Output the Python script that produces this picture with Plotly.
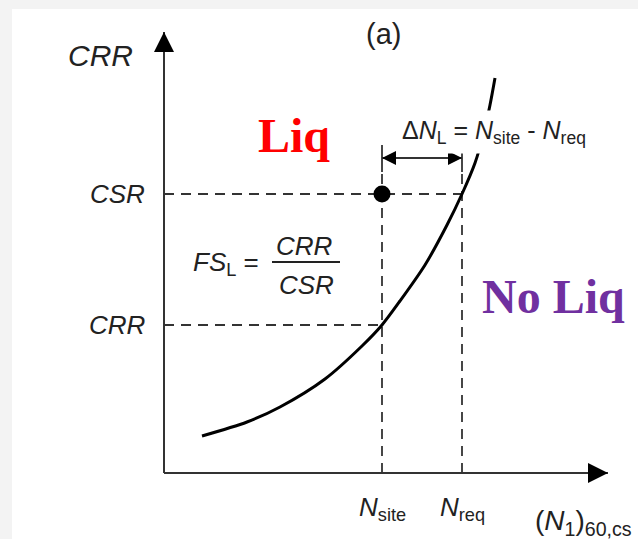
import plotly.graph_objects as go

# ---- data (schematic units: 1 unit = 100 px) ----
curve_x = [0.38, 0.83, 1.16, 1.61, 1.98, 2.18, 2.36, 2.61, 2.83, 2.98, 3.11, 3.20, 3.26, 3.31]
curve_y = [0.37, 0.51, 0.66, 0.94, 1.27, 1.48, 1.72, 2.08, 2.48, 2.79, 3.10, 3.41, 3.68, 3.95]
N_site = 2.18
N_req = 2.98
CSR = 2.79
CRR = 1.48
x_axis_end = 4.44
y_axis_end = 4.41
tick_labels = ["<i>CSR</i>", "<i>CRR</i>"]
tick_values = [CSR, CRR]
n_labels = ["<i>N</i><sub>site</sub>", "<i>N</i><sub>req</sub>"]
n_values = [N_site, N_req]

AX = "#333333"
FONT = "Liberation Sans, Arial, sans-serif"
SERIF = "Liberation Serif, Times New Roman, serif"
DASH = dict(color=AX, width=1.8, dash="10px,7px")

fig = go.Figure()

def line(xs, ys, **kw):
    fig.add_trace(go.Scatter(x=xs, y=ys, mode="lines", hoverinfo="skip", **kw))

# axes
line([0, 0], [0, y_axis_end], line=dict(color=AX, width=2))
line([0, x_axis_end], [0, 0], line=dict(color=AX, width=2))
fig.add_trace(go.Scatter(x=[0], y=[y_axis_end], mode="markers", hoverinfo="skip",
                         marker=dict(symbol="arrow-up", size=20, color="black", line=dict(width=0))))
fig.add_trace(go.Scatter(x=[x_axis_end], y=[0], mode="markers", hoverinfo="skip",
                         marker=dict(symbol="arrow-right", size=20, color="black", line=dict(width=0))))

# dashed guide lines
line([0, N_req], [CSR, CSR], line=DASH)
line([0, N_site], [CRR, CRR], line=DASH)
bar_lo, bar_hi = 3.01, 3.28
for nv in n_values:
    line([nv, nv], [0, bar_lo], line=DASH)
    line([nv, nv], [bar_lo, bar_hi], line=dict(color=AX, width=1.8))

# delta N double arrow
dy = 3.15
line([N_site, N_req], [dy, dy], line=dict(color=AX, width=2))
fig.add_trace(go.Scatter(x=[N_site], y=[dy], mode="markers", hoverinfo="skip",
                         marker=dict(symbol="arrow-left", size=14, color="black", line=dict(width=0))))
fig.add_trace(go.Scatter(x=[N_req], y=[dy], mode="markers", hoverinfo="skip",
                         marker=dict(symbol="arrow-right", size=14, color="black", line=dict(width=0))))

# CRR curve
line(curve_x, curve_y, line=dict(color="black", width=3, shape="spline", smoothing=0.8))
# site point
fig.add_trace(go.Scatter(x=[N_site], y=[CSR], mode="markers", hoverinfo="skip",
                         marker=dict(color="black", size=17)))

ann = []
txt = dict(color="#222222", family=FONT)
ann.append(dict(x=2.19, y=4.39, text="(a)", showarrow=False, font=dict(size=29, **txt)))
ann.append(dict(x=-0.64, y=4.18, text="<i>CRR</i>", showarrow=False, font=dict(size=30, **txt)))
for lab, v in zip(tick_labels, tick_values):
    ann.append(dict(x=-0.17, y=v, text=lab, showarrow=False, xanchor="right",
                    font=dict(size=26, **txt)))
for lab, v in zip(n_labels, n_values):
    ann.append(dict(x=v, y=-0.35, text=lab, showarrow=False, font=dict(size=26, **txt)))
ann.append(dict(x=3.69, y=-0.49, text="(<i>N</i><sub>1</sub>)<sub>60,cs</sub>", showarrow=False,
                xanchor="left", font=dict(size=28, **txt)))
ann.append(dict(x=3.30, y=3.41,
                text="Δ<i>N</i><sub>L</sub> = <i>N</i><sub>site</sub> - <i>N</i><sub>req</sub>",
                showarrow=False, bgcolor="white", borderpad=5, font=dict(size=25, **txt)))
ann.append(dict(x=0.62, y=2.10, text="<i>FS</i><sub>L</sub> =", showarrow=False,
                font=dict(size=26, **txt)))
ann.append(dict(x=1.40, y=2.27, text="<i>CRR</i>", showarrow=False, font=dict(size=26, **txt)))
ann.append(dict(x=1.42, y=1.88, text="<i>CSR</i>", showarrow=False, font=dict(size=26, **txt)))

ann.append(dict(x=1.30, y=3.38, text="<b>Liq</b>", showarrow=False,
                font=dict(size=48, color="#ff0000", family=SERIF)))
ann.append(dict(x=3.89, y=1.77, text="<b>No Liq</b>", showarrow=False,
                font=dict(size=48, color="#7030a0", family=SERIF)))

shapes = [
    dict(type="line", xref="x", yref="y", x0=1.08, x1=1.76, y0=2.11, y1=2.11,
         line=dict(color="#222222", width=2)),
    dict(type="rect", xref="paper", yref="paper", x0=0, x1=12 / 638, y0=0, y1=1,
         fillcolor="#f3f3f3", line=dict(width=0), layer="below"),
    dict(type="rect", xref="paper", yref="paper", x0=0, x1=1, y0=1 - 9 / 539, y1=1,
         fillcolor="#f3f3f3", line=dict(width=0), layer="below"),
]

fig.update_layout(
    width=638, height=539,
    margin=dict(l=0, r=0, t=0, b=0),
    paper_bgcolor="white", plot_bgcolor="rgba(0,0,0,0)",
    showlegend=False,
    xaxis=dict(range=[-1.64, 4.74], visible=False, fixedrange=True),
    yaxis=dict(range=[-0.66, 4.73], visible=False, fixedrange=True),
    annotations=ann, shapes=shapes,
)

fig.write_html("out.html")
